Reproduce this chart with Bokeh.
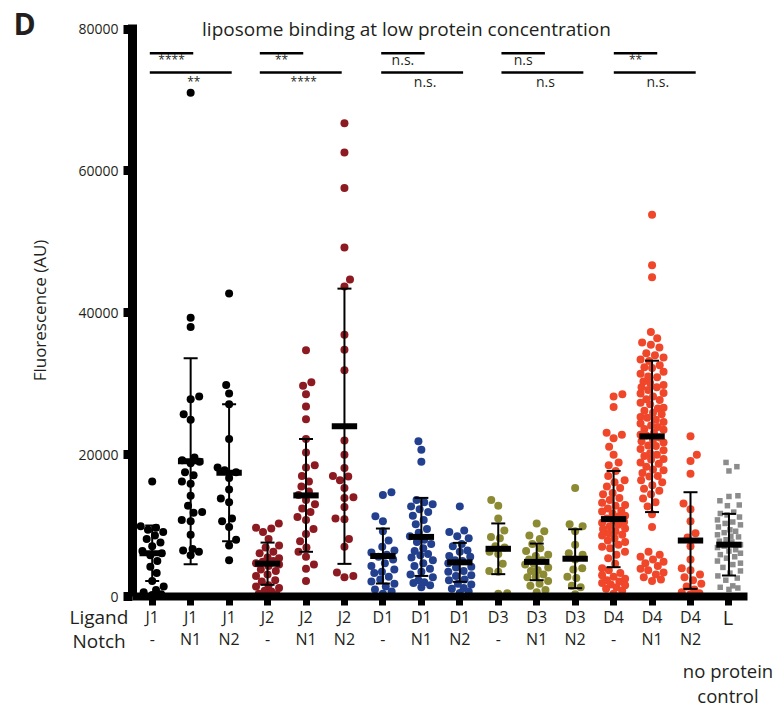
import math
from bokeh.plotting import figure
from bokeh.models import Range1d, FixedTicker, LinearAxis, Label, ColumnDataSource
from bokeh.core.properties import value
from bokeh.embed import file_html
from bokeh.resources import INLINE

# ---------------- data ----------------
ligand_labels = ["J1", "J1", "J1", "J2", "J2", "J2", "D1", "D1", "D1",
                 "D3", "D3", "D3", "D4", "D4", "D4", "L"]
notch_labels = ["-", "N1", "N2", "-", "N1", "N2", "-", "N1", "N2",
                "-", "N1", "N2", "-", "N1", "N2", ""]

j1_none = [16200, 9900, 9700, 9400, 9100, 8600, 8100, 7600, 7100, 6400, 6100,
           5800, 5000, 4200, 3300, 2200, 1400, 900, 600, 300, 200]
j1_n1 = [71000, 39300, 38000, 28200, 27800, 25700, 24900, 19600, 19200, 19000,
         18800, 17500, 17100, 16200, 15900, 14200, 12800, 11900, 11800, 10800,
         10600, 8700, 6700, 6500, 6300, 5800]
j1_n2 = [42700, 29800, 28600, 27100, 22200, 18200, 17800, 17500, 16700, 15100,
         13800, 13300, 11000, 10600, 9800, 8000, 7200, 5100]
j2_none = [10300, 9700, 9600, 9100, 8100, 7200, 6900, 6300, 6100, 5500, 5400,
           5000, 4900, 4700, 4500, 4300, 3800, 3600, 3100, 2900, 2300, 2100,
           1600, 1400, 1200, 800, 700, 400, 300, 100]
j2_n1 = [34700, 30200, 29700, 28500, 26800, 25000, 22200, 20300, 18500, 18200,
         17000, 16200, 15500, 14800, 14300, 13600, 13000, 12400, 11900, 11200,
         10800, 9500, 8800, 7800, 6900, 6300, 5600, 4500, 3900, 2200]
j2_n2 = [66700, 62600, 57600, 49200, 44700, 43700, 36900, 34800, 31900, 22000,
         20000, 18100, 17000, 16900, 16400, 15300, 14000, 13900, 12600, 11000,
         10900, 8100, 7000, 3400, 2900, 2700]
d1_none = [14700, 14300, 11300, 10600, 9200, 7900, 7000, 6500, 6200, 5900, 5600,
           5200, 4700, 4300, 3800, 3500, 3300, 2800, 2400, 2100, 1800, 1400,
           1000, 700, 400]
d1_n1 = [21900, 20700, 19000, 13600, 13300, 13000, 12700, 12300, 11900, 11400,
         10800, 10200, 9500, 9000, 8500, 8000, 7700, 7400, 6800, 6400, 6000,
         5800, 5500, 5100, 4700, 4300, 3900, 3500, 3100, 2700, 2300, 2000,
         1900, 1600, 1300]
d1_n2 = [12700, 9300, 9100, 8500, 8200, 7400, 7100, 6500, 6300, 5700, 5600,
         5100, 5000, 4700, 4200, 4100, 3600, 3500, 3000, 2900, 2400, 2300,
         1800, 1700, 1200, 1100, 700, 500]
d3_none = [13600, 12800, 11000, 9300, 8400, 8200, 7100, 6900, 6300, 6000, 4600,
           3600, 3500, 450, 400]
d3_n1 = [10300, 9200, 8600, 8100, 7400, 6800, 6400, 5900, 5700, 5200, 5100,
         4600, 4500, 4100, 3700, 3600, 3100, 2800, 2700, 2200, 1800, 1500, 900, 600]
d3_n2 = [15300, 10200, 9900, 9200, 7300, 6100, 5900, 5200, 4000, 3800, 2800,
         2600, 1500, 1300, 300]
d4_none = [28500, 28200, 26700, 23100, 22800, 22300, 21100, 20000, 18900, 18500,
           17700, 17000, 16400, 16100, 15500, 15300, 14600, 14400, 13900, 13600,
           13200, 12900, 12800, 12400, 12100, 12000, 11700, 11400, 11300, 11000,
           10700, 10500, 10400, 10100, 9900, 9600, 9500, 9200, 8900, 8700, 8600,
           8200, 7900, 7700, 7300, 7000, 6800, 6300, 5900, 5400, 4600, 4000,
           3700, 3300, 3000, 2800, 2500, 2300, 2100, 1900, 1700, 1600, 1300,
           1100, 800, 400]
d4_n1 = [53800, 46700, 45000, 37300, 36400, 35800, 35500, 35100, 34300, 34000,
         33700, 33400, 33200, 32600, 32300, 32200, 31700, 31400, 31000, 30900,
         30300, 30100, 29800, 29500, 29500, 29100, 28700, 28600, 28200, 27800,
         27700, 27300, 27100, 26600, 26500, 26200, 25900, 25700, 25300, 25200,
         24900, 24600, 24400, 24100, 23900, 23600, 23500, 23100, 22800, 22700,
         22400, 22100, 21900, 21700, 21300, 21200, 20800, 20600, 20200, 20000,
         19800, 19400, 19300, 18900, 18700, 18300, 17900, 17800, 17400, 17000,
         16900, 16400, 16100, 15700, 15200, 14900, 14400, 13800, 13300, 12700,
         11600, 9800, 6300, 5900, 5600, 5200, 4900, 4700, 4300, 3900, 3700,
         3400, 3100, 2700, 2400, 2200]
d4_n2 = [22600, 20000, 19100, 17300, 13100, 12300, 10600, 8900, 8300, 7100,
         5200, 4000, 3700, 3100, 2700, 2300, 1800, 1400, 1000, 600, 450, 300]
liposome_only = [18900, 18300, 17700, 14200, 14100, 13500, 12900, 12800, 11900,
                 11700, 11500, 11200, 10800, 10500, 10300, 10100, 9800, 9400,
                 9200, 9000, 8700, 8500, 8400, 8000, 7800, 7700, 7300, 7100,
                 6900, 6600, 6400, 6100, 5900, 5600, 5400, 5000, 4700, 4500,
                 4100, 3600, 3300, 2900, 2600, 2300, 1500, 1300, 1200, 1000]

means = [6100, 19075, 17450, 4625, 14250, 24000, 5705, 8400, 4815,
         6725, 4880, 5325, 10915, 22570, 7890, 7305]
sds = [3900, 14525, 9650, 2975, 7950, 19400, 3875, 5500, 2745,
       3575, 2580, 4155, 6785, 10670, 6810, 4345]

y_ticks = [0, 20000, 40000, 60000, 80000]
y_tick_labels = ["0", "20000", "40000", "60000", "80000"]

sig_first = [0, 3, 6, 9, 12]                      # first group of each family
sig_near = ["****", "**", "n.s.", "n.s", "**"]    # first vs second group
sig_far = ["**", "****", "n.s.", "n.s", "n.s."]   # first vs third group

group_values = [j1_none, j1_n1, j1_n2, j2_none, j2_n1, j2_n2,
                d1_none, d1_n1, d1_n2, d3_none, d3_n1, d3_n2,
                d4_none, d4_n1, d4_n2, liposome_only]

# ---------------- style / layout ----------------
TXT = "#231f20"
FONT = "Open Sans"
family_colors = ["#000000", "#8c1a20", "#23408e", "#8c8a32", "#f0462a", "#8c8c8c"]
group_color = [family_colors[min(i // 3, 5)] for i in range(16)]

W, H = 780, 709
PX_GROUP = 38.45          # pixels between neighbouring groups
G0_PX = 151.7             # page x of the first group
AXIS_X_PX = 132           # page x of the value axis
AXIS_END_PX = 747         # page x where the category axis ends
ZERO_PX = 596             # page y of value 0
TOP_PX = 24               # page y where the value axis ends
PX_VAL = (ZERO_PX - 28.5) / 80000.0


def gx(page_x):
    return (page_x - G0_PX) / PX_GROUP


def gy(page_y):
    return (ZERO_PX - page_y) / PX_VAL


def swarm_offsets(vals, d=9.0, cap=11.5):
    ys = [v * PX_VAL for v in vals]
    order = sorted(range(len(vals)), key=lambda k: ys[k])
    placed = []
    offs = [0.0] * len(vals)
    flip = 1
    for k in order:
        y = ys[k]
        near = [(px, py) for px, py in placed if abs(py - y) < d]
        cands = [0.0]
        for px, py in near:
            dx = math.sqrt(d * d - (py - y) ** 2)
            cands.extend([px + dx, px - dx])
        cands.sort(key=lambda c: (round(abs(c), 6), -flip * c))
        chosen = None
        for c in cands:
            if abs(c) > cap + 1e-9:
                break
            if all((c - px) ** 2 + (y - py) ** 2 >= d * d - 1e-6 for px, py in near):
                chosen = c
                break
        if chosen is None:
            best, best_score = 0.0, -1.0
            steps = 24
            for s in range(steps + 1):
                c = -cap + 2 * cap * s / steps
                score = min((c - px) ** 2 + (y - py) ** 2 for px, py in near)
                if score > best_score + 1e-9:
                    best, best_score = c, score
            chosen = best
        if chosen != 0:
            flip = -flip
        offs[k] = chosen
        placed.append((chosen, y))
    return offs


p = figure(width=W, height=H, x_range=Range1d(gx(0), gx(W)),
           y_range=Range1d(gy(H), gy(0)),
           min_border=0, output_backend="svg", toolbar_location=None)
p.grid.visible = False
p.outline_line_color = None
p.background_fill_color = "white"
p.border_fill_color = "white"

# points
for i, vals in enumerate(group_values):
    offs = swarm_offsets(vals)
    xs = [i + o / PX_GROUP for o in offs]
    src = ColumnDataSource(dict(x=xs, y=vals))
    if i == 15:
        p.scatter("x", "y", source=src, marker="square", size=5.5,
                  fill_color=group_color[i], line_color=None)
    else:
        p.scatter("x", "y", source=src, marker="circle", size=8,
                  fill_color=group_color[i], line_color=None)

# mean and SD bars
idx = list(range(16))
lo = [m - s for m, s in zip(means, sds)]
hi = [m + s for m, s in zip(means, sds)]
cap_w = 7 / PX_GROUP
mean_w = 12.7 / PX_GROUP
p.segment(x0=idx, y0=lo, x1=idx, y1=hi, line_color="black", line_width=2)
p.segment(x0=[i - cap_w for i in idx], y0=hi, x1=[i + cap_w for i in idx], y1=hi,
          line_color="black", line_width=2)
p.segment(x0=[i - cap_w for i in idx], y0=lo, x1=[i + cap_w for i in idx], y1=lo,
          line_color="black", line_width=2)
p.segment(x0=[i - mean_w for i in idx], y0=means, x1=[i + mean_w for i in idx],
          y1=means, line_color="black", line_width=6)

# significance brackets
bracket_shift_px = [0.1, -5.25, 0.8, 5.7, 2.7]
pad = 2.5 / PX_GROUP
row1_y, row2_y = gy(52.8), gy(72)
bx0, bx1n, bx1f, bys1, bys2 = [], [], [], [], []
tx, ty, tt = [], [], []
for f, first in enumerate(sig_first):
    sh = bracket_shift_px[f] / PX_GROUP
    a = first + sh - pad
    bn = first + 1 + sh + pad
    bf = first + 2 + sh + pad
    bx0.append(a)
    bx1n.append(bn)
    bx1f.append(bf)
    bys1.append(row1_y)
    bys2.append(row2_y)
    star1 = sig_near[f].startswith("*")
    star2 = sig_far[f].startswith("*")
    tx.append((a + bn) / 2)
    ty.append(gy(59 if star1 else 58.5))
    tt.append(sig_near[f])
    tx.append((a + bf) / 2 + 3 / PX_GROUP)
    ty.append(gy(80.5 if star2 else 80.5))
    tt.append(sig_far[f])
p.segment(x0=bx0, y0=bys1, x1=bx1n, y1=bys1, line_color="black", line_width=2.5)
p.segment(x0=bx0, y0=bys2, x1=bx1f, y1=bys2, line_color="black", line_width=2.5)
for X, Y, T in zip(tx, ty, tt):
    size = "12px" if T.startswith("*") else "14px"
    p.text(x=[X], y=[Y], text=[T], text_font=value(FONT), text_font_size=value(size),
           text_color=TXT, text_align="center", text_baseline="alphabetic")

# y axis (drawn at a fixed location inside the full-canvas frame)
ya = p.yaxis[0]
ya.fixed_location = gx(AXIS_X_PX)
ya.bounds = (0, gy(TOP_PX))
ya.ticker = FixedTicker(ticks=y_ticks)
ya.major_label_overrides = {t: l for t, l in zip(y_ticks, y_tick_labels)}
ya.axis_line_width = 9
ya.axis_line_color = "black"
ya.major_tick_line_width = 9
ya.major_tick_line_color = "black"
ya.major_tick_out = 9
ya.major_tick_in = 0
ya.minor_tick_line_color = None
ya.major_label_standoff = 5
ya.major_label_text_font = FONT
ya.major_label_text_font_size = "14px"
ya.major_label_text_color = TXT
ya.axis_label = "Fluorescence (AU)"
ya.axis_label_text_font = FONT
ya.axis_label_text_font_size = "17px"
ya.axis_label_text_font_style = "normal"
ya.axis_label_text_color = TXT
ya.axis_label_standoff = 24

# x axis (ligand row)
xa = p.xaxis[0]
xa.fixed_location = 0
xa.bounds = (gx(AXIS_X_PX), gx(AXIS_END_PX))
xa.ticker = FixedTicker(ticks=idx)
xa.major_label_overrides = {i: (ligand_labels[i] if i < 15 else "") for i in idx}
xa.axis_line_width = 8
xa.axis_line_color = "black"
xa.major_tick_line_width = 7
xa.major_tick_line_color = "black"
xa.major_tick_out = 9
xa.major_tick_in = 0
xa.minor_tick_line_color = None
xa.major_label_standoff = 0
xa.major_label_text_font = FONT
xa.major_label_text_font_size = "16px"
xa.major_label_text_color = TXT

# second x axis (notch row)
xa2 = LinearAxis(ticker=FixedTicker(ticks=idx), fixed_location=0,
                 bounds=(gx(AXIS_X_PX), gx(AXIS_END_PX)),
                 major_label_overrides={i: notch_labels[i] for i in idx})
xa2.axis_line_color = None
xa2.major_tick_line_color = None
xa2.minor_tick_line_color = None
xa2.major_tick_out = 0
xa2.major_tick_in = 0
xa2.major_label_standoff = 31
xa2.major_label_text_font = FONT
xa2.major_label_text_font_size = "16px"
xa2.major_label_text_color = TXT
p.add_layout(xa2, "below")


# free texts
def add_label(text, px, py, size, align="left", style="normal"):
    p.add_layout(Label(x=gx(px), y=gy(py), text=text, text_font=FONT,
                       text_font_size=size, text_color=TXT, text_align=align,
                       text_baseline="alphabetic", text_font_style=style))


add_label("liposome binding at low protein concentration", 406, 28, "19px", "center")
add_label("D", 13, 23, "30px", "left", "bold")
add_label("Ligand", 69, 616, "19px", "left")
add_label("Notch", 72, 640, "19px", "left")
add_label("L", 727.5, 617, "20px", "center")
add_label("no protein", 727.5, 670, "18.5px", "center")
add_label("control", 727.5, 695, "18.5px", "center")

open("out.html", "w").write(file_html(p, INLINE))
